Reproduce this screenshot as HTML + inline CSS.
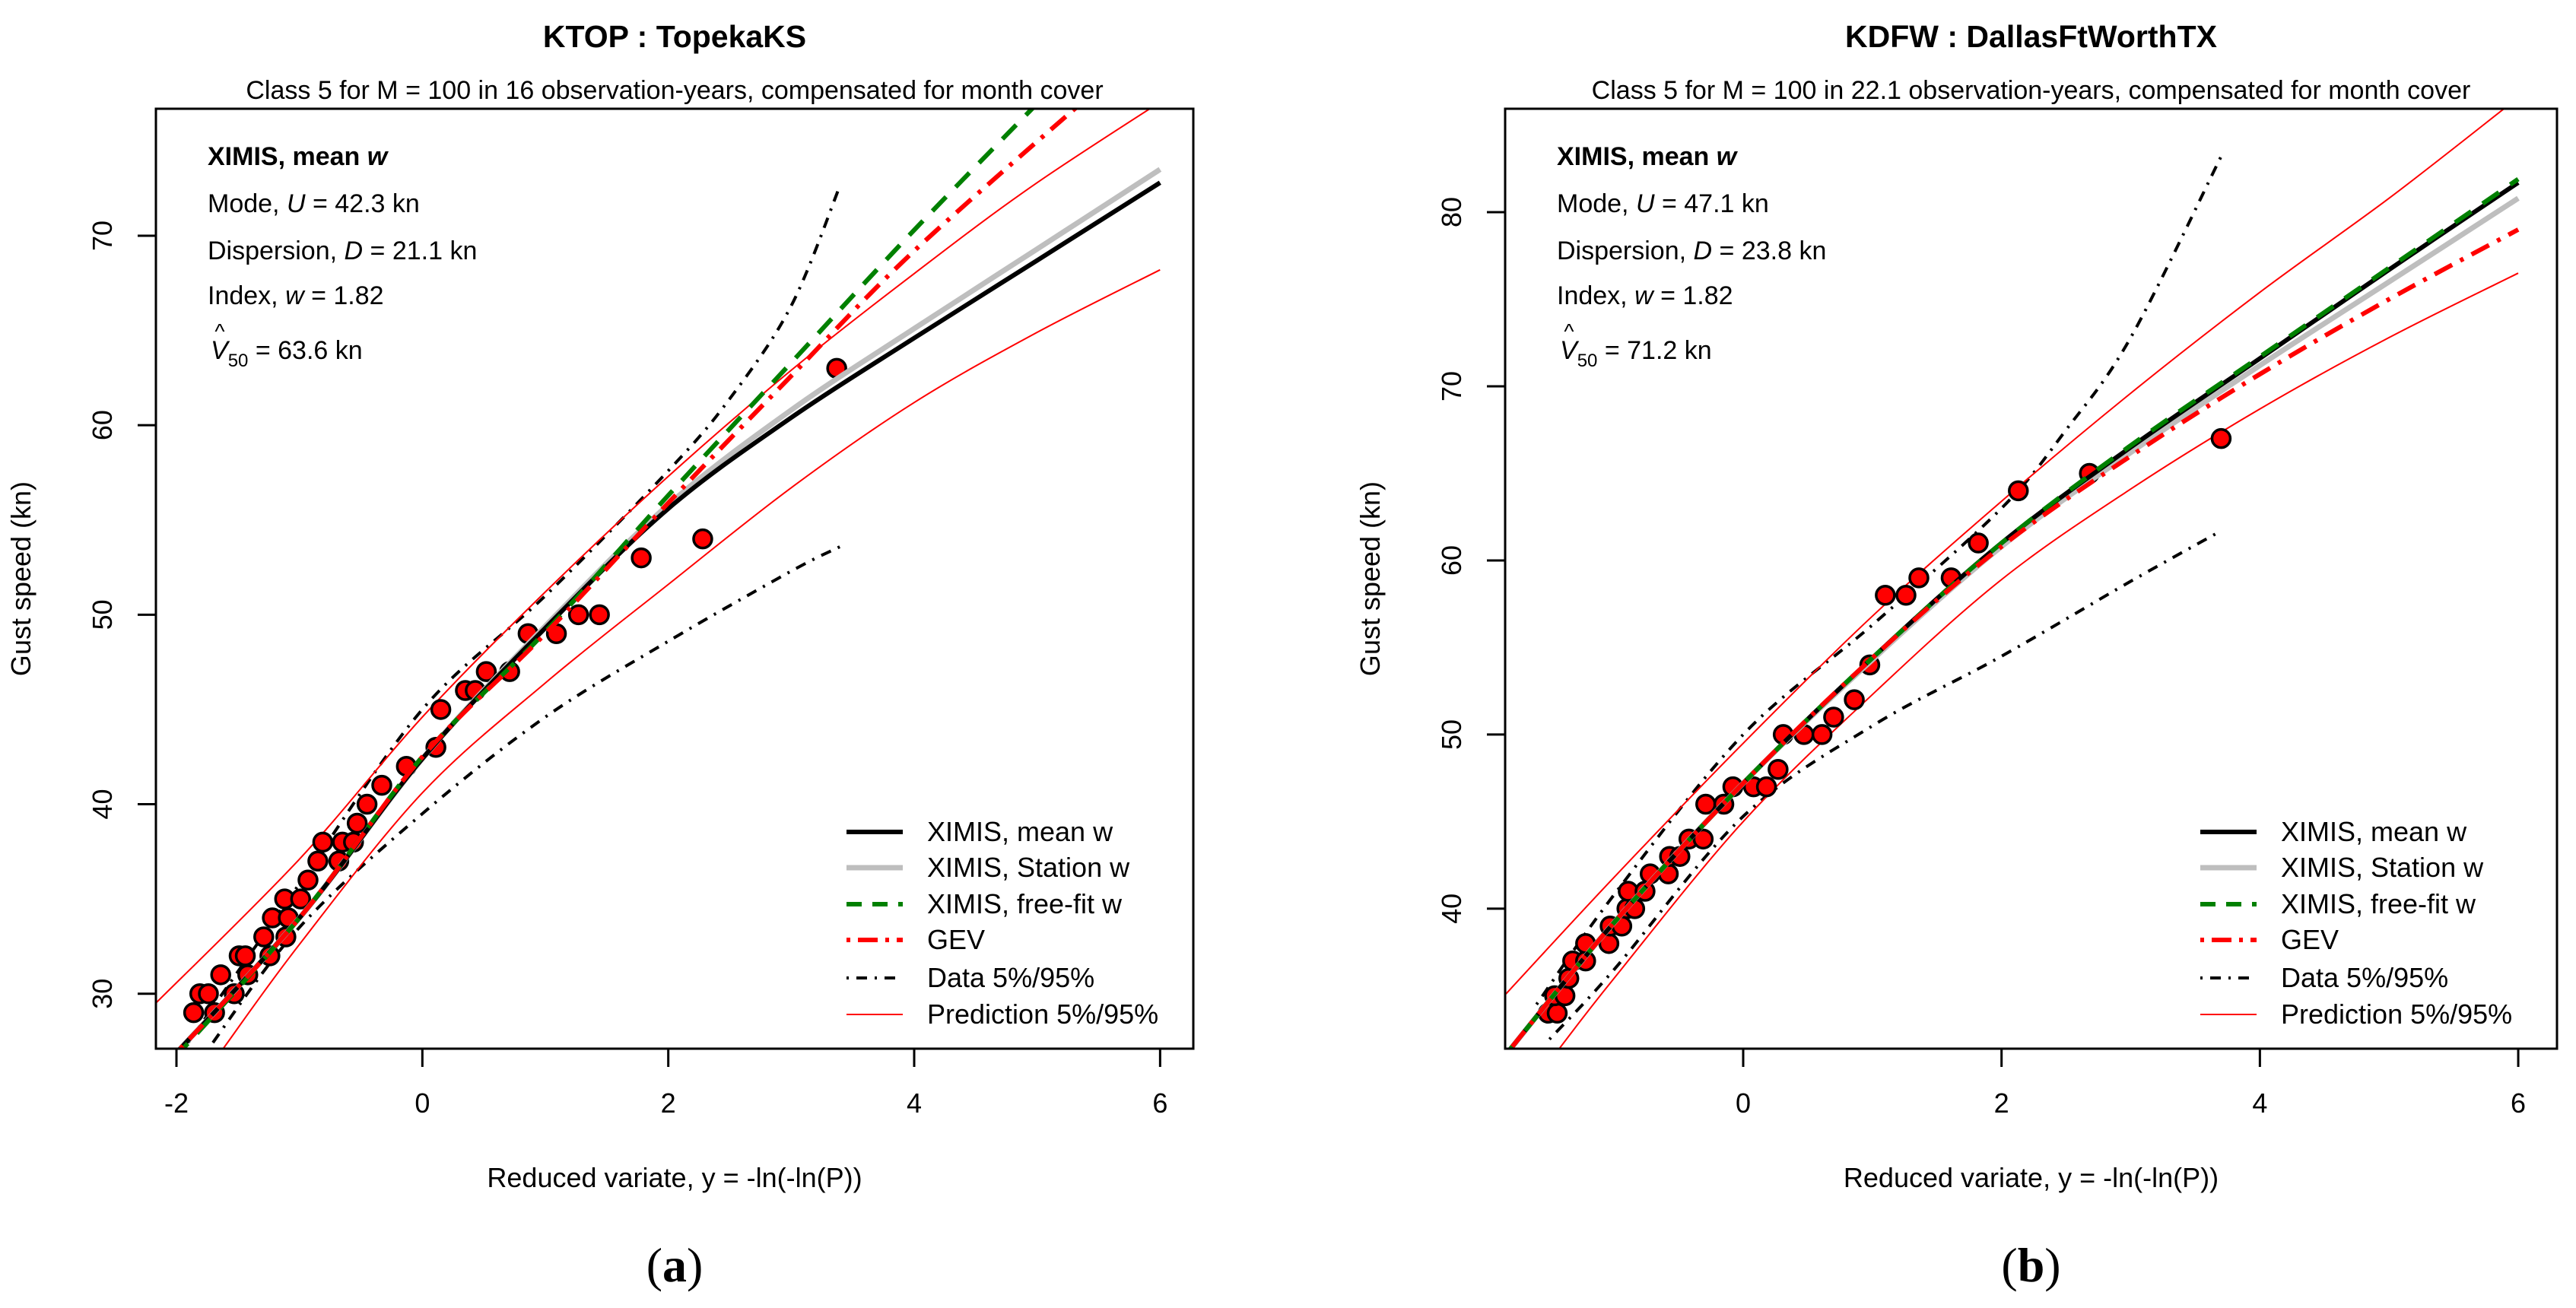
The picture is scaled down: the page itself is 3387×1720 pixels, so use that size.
<!DOCTYPE html>
<html><head><meta charset="utf-8">
<style>
html,body{margin:0;padding:0;background:#fff;}
svg{display:block;font-family:"Liberation Sans",Arial,sans-serif;}
</style></head>
<body>
<svg id="fig" width="3387" height="1720" viewBox="0 0 3387 1720" xmlns="http://www.w3.org/2000/svg"></svg>
<script>
// ===== Panel A data (KTOP) =====
const aTicksX = [-2, 0, 2, 4, 6];
const aTicksY = [30, 40, 50, 60, 70];
const aPtsX = [-1.86,-1.69,-1.81,-1.74,-1.53,-1.64,-1.42,-1.49,-1.44,-1.24,-1.29,-1.11,-1.22,-1.09,-1.12,-0.99,-0.93,-0.85,-0.68,-0.81,-0.65,-0.56,-0.53,-0.45,-0.33,-0.13,0.11,0.15,0.35,0.43,0.52,0.71,0.86,1.09,1.27,1.44,1.78,2.28,3.37];
const aPtsV = [29,29,30,30,30,31,31,32,32,32,33,33,34,34,35,35,36,37,37,38,38,38,39,40,41,42,43,45,46,46,47,47,49,49,50,50,53,54,63];
const aMeanX = [-2.2,-1,0,1,2,3,4,5,6];
const aMeanV = [25.5,34,42.4,49.3,55.6,60.4,64.6,68.7,72.8];
const aStatX = [-2.2,-1,0,1,2,3,4,5,6];
const aStatV = [25.5,34,42.4,49.4,55.8,60.8,65.1,69.3,73.5];
const aFreeX = [-2.2,-1,0,1,2,3,4,5.2];
const aFreeV = [25.3,34,42.5,49.1,56.3,63.3,70.3,78.3];
const aGevX = [-2.2,-1,0,1,2,3,4,5.5];
const aGevV = [25.5,34,42.5,49,55.9,62.6,69.2,77.8];
const aPUpX = [-2.2,-1,0,1,2,3,4,5,6.3];
const aPUpV = [29.3,37.1,44.6,51.2,57.3,62.9,68,72.8,78.3];
const aPLoX = [-1.62,-1,0,1,2,3,4,5,6];
const aPLoV = [27.1,32.6,40.6,46.4,51.6,56.7,61.2,64.9,68.2];
const aDUpX = [-1.95,-1,0,1,2,2.5,3,3.4];
const aDUpV = [27,35.8,45.0,51.0,57.6,61.4,66.3,72.7];
const aDLoX = [-1.75,-1,0,1,2,3,3.4];
const aDLoV = [27,33.5,39.5,44.6,48.6,52.3,53.6];

// ===== Panel B data (KDFW) =====
const bTicksX = [0, 2, 4, 6];
const bTicksY = [40, 50, 60, 70, 80];
const bPtsX = [-1.51,-1.44,-1.46,-1.38,-1.35,-1.32,-1.22,-1.22,-1.04,-1.03,-0.94,-0.90,-0.84,-0.89,-0.76,-0.72,-0.58,-0.57,-0.49,-0.42,-0.31,-0.29,-0.15,-0.08,0.08,0.18,0.27,0.31,0.47,0.61,0.70,0.86,0.98,1.10,1.26,1.36,1.61,1.82,2.13,2.68,3.70];
const bPtsV = [34,34,35,35,36,37,37,38,38,39,39,40,40,41,41,42,42,43,43,44,44,46,46,47,47,47,48,50,50,50,51,52,54,58,58,59,59,61,64,65,67];
const bMeanX = [-1.85,-1,0,1,2,3,4,5,6];
const bMeanV = [31.5,39.2,47.2,54.4,61.0,66.5,71.6,76.7,81.7];
const bStatX = [-1.85,-1,0,1,2,3,4,5,6];
const bStatV = [31.5,39.2,47.2,54.3,60.8,66.2,71.2,76.0,80.8];
const bFreeX = [-1.85,-1,0,1,2,3,4,5,6];
const bFreeV = [31.5,39.2,47.2,54.4,61.0,66.6,71.7,76.8,81.9];
const bGevX = [-1.85,-1,0,1,2,3,4,5,6];
const bGevV = [31.5,39.2,47.2,54.4,60.8,66.0,70.7,75.0,79.0];
const bPUpX = [-1.85,-1,0,1,2,3,4,5,5.9];
const bPUpV = [35.0,41.8,49.5,56.8,63.4,69.6,75.4,80.8,86.0];
const bPLoX = [-1.42,-1,0,1,2,3,4,5,6];
const bPLoV = [32.0,36.0,45.0,52.3,58.9,64.1,68.7,72.8,76.5];
const bDUpX = [-1.6,-1,0,1,2,2.5,3,3.7];
const bDUpV = [34.5,40.8,50.0,56.3,63.0,67.5,72.8,83.2];
const bDLoX = [-1.5,-1,0,1,2,3,3.7];
const bDLoV = [32.5,36.5,45.3,50.5,54.5,58.8,61.7];

const NS = "http://www.w3.org/2000/svg";
const svg = document.getElementById('fig');
function mk(tag, attrs, parent){
  const e = document.createElementNS(NS, tag);
  for (const k in attrs) e.setAttribute(k, attrs[k]);
  (parent||svg).appendChild(e);
  return e;
}
function smoothPath(pts){
  let d = 'M' + pts[0][0].toFixed(1) + ',' + pts[0][1].toFixed(1);
  for (let i = 0; i < pts.length - 1; i++){
    const p0 = pts[Math.max(0, i-1)], p1 = pts[i], p2 = pts[i+1], p3 = pts[Math.min(pts.length-1, i+2)];
    const c1x = p1[0] + (p2[0]-p0[0])/6, c1y = p1[1] + (p2[1]-p0[1])/6;
    const c2x = p2[0] - (p3[0]-p1[0])/6, c2y = p2[1] - (p3[1]-p1[1])/6;
    d += 'C' + c1x.toFixed(1) + ',' + c1y.toFixed(1) + ' ' + c2x.toFixed(1) + ',' + c2y.toFixed(1) + ' ' + p2[0].toFixed(1) + ',' + p2[1].toFixed(1);
  }
  return d;
}

function panel(P){
  const g = mk('g', {});
  
  
  const sx = v => P.L + (v - P.x0) / (P.x1 - P.x0) * (P.R - P.L);
  const sy = v => P.B - (v - P.y0) / (P.y1 - P.y0) * (P.B - P.T);
  const clipId = 'clip-' + P.id;
  const cp = mk('clipPath', {id: clipId}, g);
  mk('rect', {x: P.L, y: P.T, width: P.R - P.L, height: P.B - P.T}, cp);
  const plot = mk('g', {'clip-path': 'url(#' + clipId + ')'}, g);
  
  

  function line(xs, vs, style, name){
    const pts = xs.map((x, i) => [sx(x), sy(vs[i])]);
    const p = mk('path', Object.assign({d: smoothPath(pts), fill: 'none', 'stroke-linejoin': 'round'}, style), plot);
    
    
  }
  const S = P.series;
  line(S.dUpX, S.dUpV, {stroke:'#000','stroke-width':4,'stroke-dasharray':'3 10 14 10'}, 'data-95-line');
  line(S.dLoX, S.dLoV, {stroke:'#000','stroke-width':4,'stroke-dasharray':'3 10 14 10'}, 'data-5-line');
  line(S.pUpX, S.pUpV, {stroke:'#ff0000','stroke-width':2}, 'prediction-95-line');
  line(S.pLoX, S.pLoV, {stroke:'#ff0000','stroke-width':2}, 'prediction-5-line');
  S.ptsX.forEach((x, i) => {
    const c = mk('circle', {cx: sx(x), cy: sy(S.ptsV[i]), r: 12, fill: '#ff0000', stroke: '#000', 'stroke-width': 3.5}, plot);
    
    
  });
  line(S.statX, S.statV, {stroke:'#bebebe','stroke-width':7}, 'ximis-station-w-line');
  line(S.meanX, S.meanV, {stroke:'#000','stroke-width':6}, 'ximis-mean-w-line');
  line(S.freeX, S.freeV, {stroke:'#008000','stroke-width':6,'stroke-dasharray':'26 18'}, 'ximis-free-fit-w-line');
  line(S.gevX, S.gevV, {stroke:'#ff0000','stroke-width':6,'stroke-dasharray':'5 12 26 12'}, 'gev-line');

  const box = mk('rect', {x: P.L, y: P.T, width: P.R - P.L, height: P.B - P.T, fill: 'none', stroke: '#000', 'stroke-width': 3}, g);
  
  

  P.ticksX.forEach(t => {
    const x = sx(t);
    const tk = mk('line', {x1: x, x2: x, y1: P.B, y2: P.B + 24, stroke: '#000', 'stroke-width': 3}, g);
    
    
    const tl = mk('text', {x: x, y: P.B + 84, 'font-size': 36, 'text-anchor': 'middle', fill: '#000'}, g);
    tl.textContent = t;
    
    
  });
  P.ticksY.forEach(t => {
    const y = sy(t);
    const tk = mk('line', {x1: P.L, x2: P.L - 24, y1: y, y2: y, stroke: '#000', 'stroke-width': 3}, g);
    
    
    const tl = mk('text', {x: P.L - 58, y: y, 'font-size': 36, 'text-anchor': 'middle', fill: '#000', transform: 'rotate(-90 ' + (P.L - 58) + ' ' + y + ')'}, g);
    tl.textContent = t;
    
    
  });
  const cx = (P.L + P.R) / 2;
  const tt = mk('text', {x: cx, y: 62, 'font-size': 41, 'font-weight': 'bold', 'text-anchor': 'middle'}, g);
  tt.textContent = P.title;
  
  
  const st = mk('text', {x: cx, y: 130, 'font-size': 34, 'text-anchor': 'middle'}, g);
  st.textContent = P.subtitle;
  
  
  const xl = mk('text', {x: cx, y: 1561, 'font-size': 36, 'text-anchor': 'middle'}, g);
  xl.textContent = 'Reduced variate, y = -ln(-ln(P))';
  
  
  const yx = P.L - 165, yy = (P.T + P.B) / 2;
  const yl = mk('text', {x: yx, y: yy, 'font-size': 36, 'text-anchor': 'middle', transform: 'rotate(-90 ' + yx + ' ' + yy + ')'}, g);
  yl.textContent = 'Gust speed (kn)';
  
  
  const pl = mk('text', {x: cx, y: 1685, 'font-size': 64, 'text-anchor': 'middle', 'font-family': '"Liberation Serif",serif'}, g);
  pl.innerHTML = '(<tspan font-weight="bold">' + P.label + '</tspan>)';
  
  

  const ax = P.L + 68;
  const ann = mk('g', {'font-size': 34}, g);
  
  
  const a1 = mk('text', {x: ax, y: 217, 'font-weight': 'bold'}, ann);
  a1.innerHTML = 'XIMIS, mean <tspan font-style="italic">w</tspan>';
  const a2 = mk('text', {x: ax, y: 279}, ann);
  a2.innerHTML = 'Mode, <tspan font-style="italic">U</tspan> = ' + P.mode + ' kn';
  const a3 = mk('text', {x: ax, y: 341}, ann);
  a3.innerHTML = 'Dispersion, <tspan font-style="italic">D</tspan> = ' + P.disp + ' kn';
  const a4 = mk('text', {x: ax, y: 400}, ann);
  a4.innerHTML = 'Index, <tspan font-style="italic">w</tspan> = 1.82';
  const a5 = mk('text', {x: ax + 4, y: 472}, ann);
  a5.innerHTML = '<tspan font-style="italic">V</tspan><tspan font-size="24" dy="10">50</tspan><tspan dy="-10"> = ' + P.v50 + ' kn</tspan>';
  const hat = mk('text', {x: ax + 16, y: 445, 'font-size': 28, 'text-anchor': 'middle'}, ann);
  hat.textContent = '^';

  const lg = mk('g', {}, g);
  
  
  const items = [
    ['XIMIS, mean w', {stroke:'#000','stroke-width':6}],
    ['XIMIS, Station w', {stroke:'#bebebe','stroke-width':7}],
    ['XIMIS, free-fit w', {stroke:'#008000','stroke-width':6,'stroke-dasharray':'20 14'}],
    ['GEV', {stroke:'#ff0000','stroke-width':6,'stroke-dasharray':'5 10 26 10'}],
    ['Data 5%/95%', {stroke:'#000','stroke-width':4,'stroke-dasharray':'3 10 14 10'}],
    ['Prediction 5%/95%', {stroke:'#ff0000','stroke-width':2}]
  ];
  const ys = [1094, 1141, 1189, 1236, 1286, 1334];
  items.forEach((it, i) => {
    const e = mk('g', {}, lg);
    
    
    mk('line', Object.assign({x1: P.lgX, x2: P.lgX + 74, y1: ys[i], y2: ys[i]}, it[1]), e);
    const t = mk('text', {x: P.lgX + 106, y: ys[i] + 12, 'font-size': 36}, e);
    t.textContent = it[0];
  });
}

panel({id:'ktop', L:205, R:1569, T:143, B:1379, x0:-2.167, x1:6.27, y0:27.1, y1:76.7,
  ticksX:aTicksX, ticksY:aTicksY, title:'KTOP : TopekaKS',
  subtitle:'Class 5 for M = 100 in 16 observation-years, compensated for month cover',
  label:'a', mode:'42.3', disp:'21.1', v50:'63.6', lgX:1113,
  series:{ptsX:aPtsX, ptsV:aPtsV, meanX:aMeanX, meanV:aMeanV, statX:aStatX, statV:aStatV, freeX:aFreeX, freeV:aFreeV,
    gevX:aGevX, gevV:aGevV, pUpX:aPUpX, pUpV:aPUpV, pLoX:aPLoX, pLoV:aPLoV, dUpX:aDUpX, dUpV:aDUpV, dLoX:aDLoX, dLoV:aDLoV}});
panel({id:'kdfw', L:1979, R:3362, T:143, B:1379, x0:-1.843, x1:6.30, y0:31.96, y1:85.94,
  ticksX:bTicksX, ticksY:bTicksY, title:'KDFW : DallasFtWorthTX',
  subtitle:'Class 5 for M = 100 in 22.1 observation-years, compensated for month cover',
  label:'b', mode:'47.1', disp:'23.8', v50:'71.2', lgX:2893,
  series:{ptsX:bPtsX, ptsV:bPtsV, meanX:bMeanX, meanV:bMeanV, statX:bStatX, statV:bStatV, freeX:bFreeX, freeV:bFreeV,
    gevX:bGevX, gevV:bGevV, pUpX:bPUpX, pUpV:bPUpV, pLoX:bPLoX, pLoV:bPLoV, dUpX:bDUpX, dUpV:bDUpV, dLoX:bDLoX, dLoV:bDLoV}});
</script>
</body></html>
